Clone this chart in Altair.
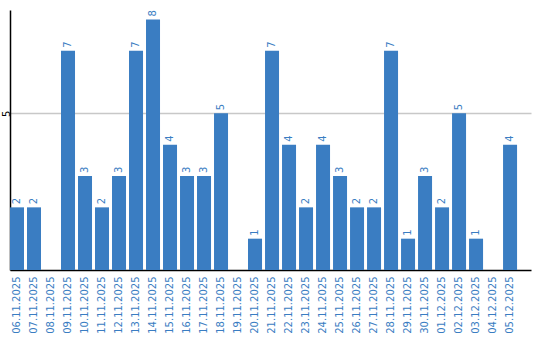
import altair as alt
import pandas as pd

dates = ["06.11.2025", "07.11.2025", "08.11.2025", "09.11.2025", "10.11.2025",
         "11.11.2025", "12.11.2025", "13.11.2025", "14.11.2025", "15.11.2025",
         "16.11.2025", "17.11.2025", "18.11.2025", "19.11.2025", "20.11.2025",
         "21.11.2025", "22.11.2025", "23.11.2025", "24.11.2025", "25.11.2025",
         "26.11.2025", "27.11.2025", "28.11.2025", "29.11.2025", "30.11.2025",
         "01.12.2025", "02.12.2025", "03.12.2025", "04.12.2025", "05.12.2025"]
values = [2, 2, 0, 7, 3, 2, 3, 7, 8, 4, 3, 3, 5, 0, 1,
          7, 4, 2, 4, 3, 2, 2, 7, 1, 3, 2, 5, 1, 0, 4]

df = pd.DataFrame({"date": dates, "value": values})
BLUE = "#3a7dc2"

x = alt.X("date:N", sort=dates, title=None,
          scale=alt.Scale(paddingInner=0.176, paddingOuter=0.41, align=0),
          axis=alt.Axis(labelAngle=270, labelAlign="right", labelBaseline="middle",
                        labelColor=BLUE, labelFont="DejaVu Sans", labelFontSize=10,
                        labelPadding=6, ticks=False, domainColor="black",
                        domainWidth=1.5, grid=False))
y = alt.Y("value:Q", title=None, scale=alt.Scale(domain=[0, 8.3], nice=False),
          axis=alt.Axis(values=[5], labelAngle=270, labelAlign="center",
                        labelBaseline="middle", labelPadding=4, labelFontSize=10,
                        labelFont="DejaVu Sans", labelColor="black", ticks=False,
                        domainColor="black", domainWidth=1.5, grid=True,
                        gridColor="#c8c8c8", gridWidth=1.5))

bars = alt.Chart(df).mark_bar(color=BLUE).encode(x=x, y=y)
text = alt.Chart(df).transform_filter("datum.value > 0").mark_text(
    angle=270, align="left", baseline="middle", dx=3, color=BLUE,
    font="DejaVu Sans", fontSize=10).encode(x=x, y=y, text="value:Q")

chart = (bars + text).properties(
    width=521, height=260,
    autosize=alt.AutoSizeParams(type="none"),
    padding={"left": 10, "top": 10, "right": 9, "bottom": 70},
).configure(background="white").configure_view(stroke=None, strokeWidth=0)

chart.save("out.html", embed_options={"renderer": "svg", "actions": False})
